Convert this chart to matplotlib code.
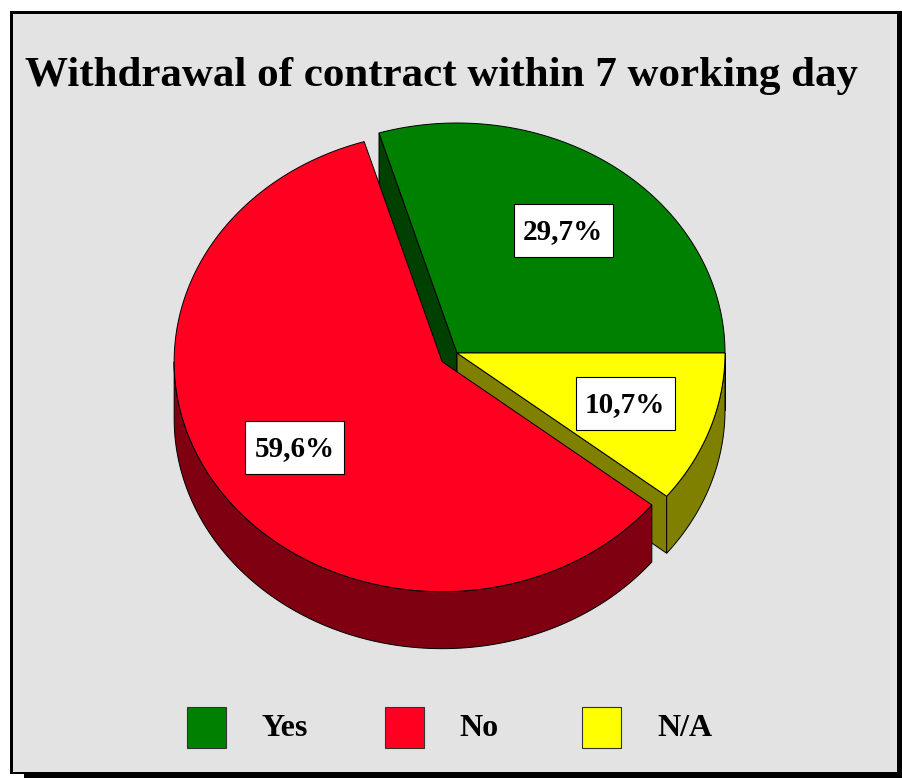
import numpy as np
import matplotlib
matplotlib.use('Agg')
import matplotlib.pyplot as plt
from matplotlib.patches import Polygon, Rectangle

# ---- data ----
categories = ['Yes', 'No', 'N/A']
values = [29.7, 59.6, 10.7]
colors_top = ['#008000', '#ff0021', '#ffff00']
colors_side = ['#004000', '#7f0010', '#808000']
explode = [0.0, 0.067, 0.0]
title = 'Withdrawal of contract within 7 working day'

# ---- layout (pixels) ----
W, H = 902, 778
BG = '#e3e3e3'
CX, CY = 457, 353      # pie centre on screen
RX, RY = 268, 230      # ellipse radii
DEPTH = 57             # pie thickness
SERIF = 'Liberation Serif'

fig = plt.figure(figsize=(W / 100, H / 100), dpi=100)
fig.patch.set_facecolor('white')
ax = fig.add_axes([0, 0, 1, 1])
ax.set_xlim(0, W)
ax.set_ylim(H, 0)
ax.axis('off')

# frame with shadow
ax.add_patch(Rectangle((10, 11), W - 10, H - 11, facecolor='black', edgecolor='none', zorder=0))
ax.add_patch(Rectangle((10, 774), 14, 4, facecolor='white', edgecolor='none', zorder=0.5))
ax.add_patch(Rectangle((13, 14), 884, 758, facecolor=BG, edgecolor='none', zorder=1))

ax.text(441, 86, title, ha='center', va='baseline', fontsize=31, fontweight='bold',
        family=SERIF, color='black', zorder=5)

total = float(sum(values))
cum = np.concatenate([[0], np.cumsum(values)])
theta1 = 360 * cum[:-1] / total
theta2 = 360 * cum[1:] / total


def pt(cx, cy, ang, r=1.0, dz=0.0):
    a = np.deg2rad(ang)
    return cx + r * RX * np.cos(a), cy - r * RY * np.sin(a) + dz


def arc(cx, cy, a1, a2, dz=0.0, n=200):
    angs = np.linspace(a1, a2, n)
    a = np.deg2rad(angs)
    return np.column_stack([cx + RX * np.cos(a), cy - RY * np.sin(a) + dz])


slices = []
for i in range(len(values)):
    mid = 0.5 * (theta1[i] + theta2[i])
    m = np.deg2rad(mid)
    ox = explode[i] * RX * np.cos(m)
    oy = -explode[i] * RY * np.sin(m)
    slices.append(dict(i=i, t1=theta1[i], t2=theta2[i], mid=mid, cx=CX + ox, cy=CY + oy))

# back slices first
order = sorted(slices, key=lambda s: -np.sin(np.deg2rad(s['mid'])))
lw = 0.7
z = 2
for s in order:
    i, cx, cy, t1, t2 = s['i'], s['cx'], s['cy'], s['t1'], s['t2']
    # radial faces
    for ang, nrm in ((t1, t1 - 90), (t2, t2 + 90)):
        if np.sin(np.deg2rad(nrm)) < 0:
            ox, oy = pt(cx, cy, ang)
            poly = [(cx, cy), (ox, oy), (ox, oy + DEPTH), (cx, cy + DEPTH)]
            ax.add_patch(Polygon(poly, closed=True, facecolor=colors_side[i],
                                 edgecolor='black', lw=lw, zorder=z))
            z += 0.01
    # outer wall on front half
    lo, hi = max(t1, 180), min(t2, 360)
    if hi > lo:
        top = arc(cx, cy, lo, hi)
        bot = arc(cx, cy, lo, hi, DEPTH)[::-1]
        ax.add_patch(Polygon(np.vstack([top, bot]), closed=True, facecolor=colors_side[i],
                             edgecolor='black', lw=lw, zorder=z))
        z += 0.01
    # top face
    pts = np.vstack([[cx, cy], arc(cx, cy, t1, t2)])
    ax.add_patch(Polygon(pts, closed=True, facecolor=colors_top[i],
                         edgecolor='black', lw=lw, zorder=z))
    z += 0.01

# data labels
BW, BH = 99, 53
for s in slices:
    i = s['i']
    lx, ly = pt(s['cx'], s['cy'], s['mid'], r=0.665)
    ax.add_patch(Rectangle((lx - BW / 2, ly - BH / 2), BW, BH, facecolor='white',
                           edgecolor='black', lw=0.8, zorder=10))
    lab = f"{values[i]:.1f}".replace('.', ',') + '%'
    ax.text(lx, ly + 1, lab, ha='center', va='center', fontsize=21, fontweight='bold',
            family=SERIF, color='black', zorder=11)

# legend
LX0, LY0, STEP = 187, 707, 197.5
for k, cat in enumerate(categories):
    x = LX0 + k * STEP
    ax.add_patch(Rectangle((x, LY0), 39, 41, facecolor=colors_top[k], edgecolor='#333333',
                           lw=0.8, zorder=5))
    ax.text(x + 75, LY0 + 21, cat, ha='left', va='center', fontsize=23, fontweight='bold',
            family=SERIF, color='black', zorder=5)

fig.savefig('out.png', dpi=100, facecolor=fig.get_facecolor())
